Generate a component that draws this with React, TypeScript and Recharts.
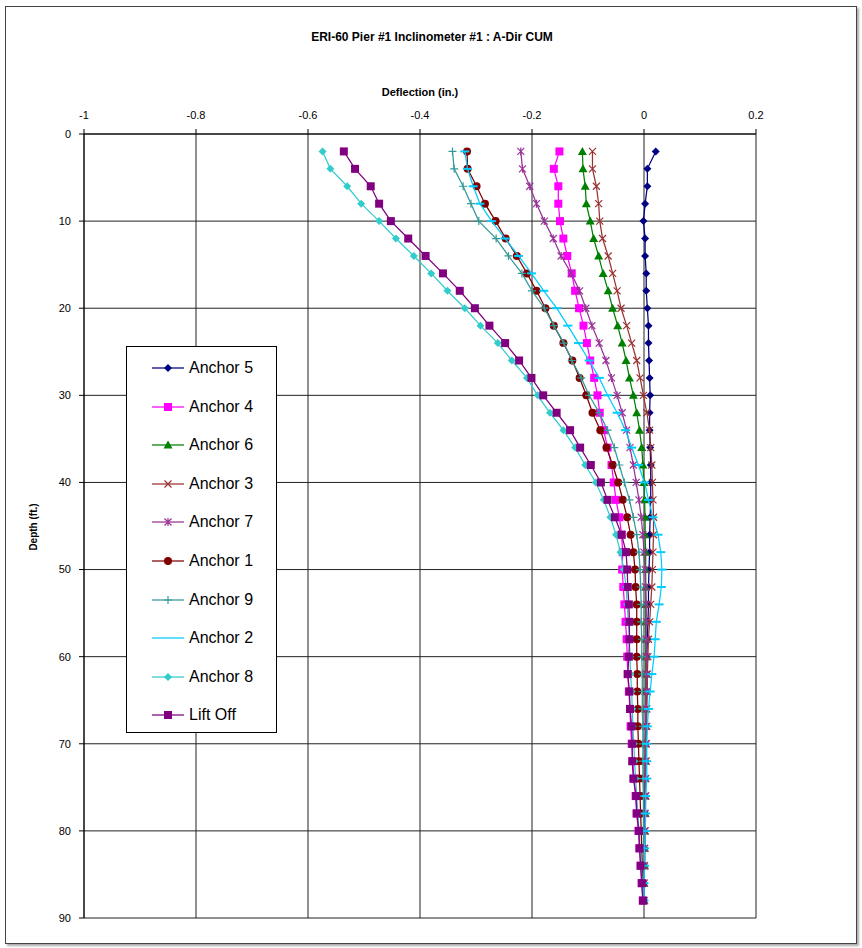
import { ScatterChart, Scatter, XAxis, YAxis, CartesianGrid } from 'recharts';

const FONT = '"Liberation Sans", Arial, sans-serif';

// depth below top of casing, ft
const DEPTH = [
  2, 4, 6, 8, 10, 12, 14, 16, 18, 20, 22, 24, 26, 28, 30, 32, 34, 36, 38, 40, 42, 44,
  46, 48, 50, 52, 54, 56, 58, 60, 62, 64, 66, 68, 70, 72, 74, 76, 78, 80, 82, 84, 86, 88,
];

const X_TICKS = [-1, -0.8, -0.6, -0.4, -0.2, 0, 0.2];
const Y_TICKS = [0, 10, 20, 30, 40, 50, 60, 70, 80, 90];

// cumulative deflection, in.
const ANCHOR_5 = [
  0.021, 0.006, 0.006, 0.002, -0.001, 0.002, 0.002, 0.004, 0.004, 0.006, 0.008, 0.008, 0.009, 0.010, 0.011,
  0.010, 0.010, 0.011, 0.012, 0.012, 0.012, 0.011, 0.010, 0.010, 0.009, 0.008, 0.008, 0.007, 0.006, 0.005,
  0.005, 0.004, 0.004, 0.003, 0.003, 0.003, 0.002, 0.002, 0.002, 0.001, 0.001, 0.001, 0.000, 0.000,
];
const ANCHOR_4 = [
  -0.151, -0.161, -0.153, -0.153, -0.150, -0.144, -0.137, -0.129, -0.123, -0.116, -0.108, -0.102, -0.096, -0.089,
  -0.083, -0.079, -0.072, -0.065, -0.058, -0.054, -0.050, -0.044, -0.040, -0.038, -0.039, -0.037, -0.035, -0.033,
  -0.031, -0.030, -0.029, -0.027, -0.025, -0.024, -0.022, -0.020, -0.018, -0.015, -0.013, -0.010, -0.008, -0.006,
  -0.004, -0.002,
];
const ANCHOR_6 = [
  -0.110, -0.109, -0.105, -0.103, -0.096, -0.090, -0.081, -0.073, -0.064, -0.056, -0.047, -0.039, -0.032, -0.026,
  -0.019, -0.013, -0.008, -0.004, -0.002, 0.000, 0.001, 0.002, 0.002, 0.003, 0.003, 0.003, 0.003, 0.003, 0.003,
  0.003, 0.003, 0.003, 0.003, 0.003, 0.002, 0.002, 0.002, 0.002, 0.002, 0.001, 0.001, 0.001, 0.000, 0.000,
];
const ANCHOR_3 = [
  -0.092, -0.092, -0.085, -0.081, -0.079, -0.074, -0.064, -0.056, -0.048, -0.041, -0.031, -0.022, -0.013, -0.007,
  -0.001, 0.005, 0.010, 0.012, 0.014, 0.015, 0.016, 0.017, 0.017, 0.016, 0.015, 0.014, 0.012, 0.010, 0.008, 0.007,
  0.006, 0.006, 0.005, 0.005, 0.004, 0.004, 0.003, 0.003, 0.002, 0.002, 0.001, 0.001, 0.000, 0.000,
];
const ANCHOR_7 = [
  -0.220, -0.217, -0.204, -0.192, -0.178, -0.162, -0.148, -0.130, -0.115, -0.104, -0.093, -0.080, -0.068, -0.058,
  -0.048, -0.039, -0.031, -0.025, -0.019, -0.014, -0.009, -0.005, -0.002, 0.000, 0.002, 0.003, 0.004, 0.004, 0.004,
  0.004, 0.004, 0.004, 0.003, 0.003, 0.003, 0.002, 0.002, 0.002, 0.001, 0.001, 0.001, 0.000, 0.000, 0.000,
];
const ANCHOR_1 = [
  -0.316, -0.315, -0.299, -0.284, -0.265, -0.247, -0.227, -0.209, -0.192, -0.176, -0.161, -0.144, -0.128, -0.115,
  -0.103, -0.092, -0.078, -0.067, -0.056, -0.046, -0.038, -0.030, -0.024, -0.019, -0.016, -0.015, -0.013, -0.013,
  -0.013, -0.013, -0.012, -0.012, -0.011, -0.011, -0.010, -0.009, -0.008, -0.007, -0.006, -0.005, -0.004, -0.003,
  -0.002, -0.001,
];
const ANCHOR_9 = [
  -0.342, -0.339, -0.323, -0.309, -0.295, -0.264, -0.242, -0.218, -0.200, -0.178, -0.161, -0.143, -0.129, -0.112,
  -0.098, -0.080, -0.065, -0.053, -0.044, -0.035, -0.026, -0.019, -0.013, -0.009, -0.007, -0.006, -0.005, -0.005,
  -0.004, -0.004, -0.003, -0.003, -0.003, -0.002, -0.002, -0.002, -0.002, -0.001, -0.001, -0.001, -0.001, 0.000,
  0.000, 0.000,
];
const ANCHOR_2 = [
  -0.320, -0.315, -0.305, -0.293, -0.272, -0.248, -0.224, -0.201, -0.179, -0.156, -0.136, -0.117, -0.098, -0.080,
  -0.065, -0.048, -0.033, -0.022, -0.010, 0.001, 0.008, 0.016, 0.025, 0.030, 0.032, 0.031, 0.027, 0.022, 0.020,
  0.018, 0.014, 0.011, 0.008, 0.006, 0.005, 0.005, 0.005, 0.003, 0.003, 0.002, 0.001, 0.001, 0.000, 0.000,
];
const ANCHOR_8 = [
  -0.574, -0.560, -0.530, -0.505, -0.473, -0.443, -0.411, -0.380, -0.351, -0.320, -0.292, -0.261, -0.236, -0.209,
  -0.190, -0.168, -0.144, -0.123, -0.105, -0.086, -0.072, -0.060, -0.050, -0.042, -0.036, -0.032, -0.030, -0.028,
  -0.026, -0.025, -0.024, -0.022, -0.021, -0.020, -0.018, -0.017, -0.015, -0.013, -0.011, -0.009, -0.007, -0.005,
  -0.003, -0.002,
];
const LIFT_OFF = [
  -0.536, -0.516, -0.488, -0.473, -0.452, -0.421, -0.390, -0.359, -0.329, -0.302, -0.276, -0.248, -0.223, -0.201,
  -0.180, -0.156, -0.132, -0.114, -0.095, -0.077, -0.065, -0.052, -0.040, -0.032, -0.030, -0.029, -0.027, -0.026,
  -0.026, -0.027, -0.029, -0.026, -0.025, -0.022, -0.021, -0.021, -0.019, -0.014, -0.013, -0.009, -0.008, -0.006,
  -0.004, -0.002,
];

type MarkerKind = 'diamond' | 'square' | 'triangle' | 'x' | 'star' | 'circle' | 'plus' | 'dash';

const SERIES: { name: string; values: number[]; color: string; marker: MarkerKind }[] = [
  { name: 'Anchor 5', values: ANCHOR_5, color: '#000080', marker: 'diamond' },
  { name: 'Anchor 4', values: ANCHOR_4, color: '#FF00FF', marker: 'square' },
  { name: 'Anchor 6', values: ANCHOR_6, color: '#008000', marker: 'triangle' },
  { name: 'Anchor 3', values: ANCHOR_3, color: '#993333', marker: 'x' },
  { name: 'Anchor 7', values: ANCHOR_7, color: '#993399', marker: 'star' },
  { name: 'Anchor 1', values: ANCHOR_1, color: '#800000', marker: 'circle' },
  { name: 'Anchor 9', values: ANCHOR_9, color: '#339999', marker: 'plus' },
  { name: 'Anchor 2', values: ANCHOR_2, color: '#00CCFF', marker: 'dash' },
  { name: 'Anchor 8', values: ANCHOR_8, color: '#33CCCC', marker: 'diamond' },
  { name: 'Lift Off', values: LIFT_OFF, color: '#800080', marker: 'square' },
];

function Marker({ kind, cx, cy, color }: { kind: MarkerKind; cx: number; cy: number; color: string }) {
  switch (kind) {
    case 'diamond':
      return <polygon points={`${cx},${cy - 4} ${cx + 4},${cy} ${cx},${cy + 4} ${cx - 4},${cy}`} fill={color} />;
    case 'square':
      return <rect x={cx - 4} y={cy - 4} width={8} height={8} fill={color} />;
    case 'triangle':
      return <polygon points={`${cx},${cy - 4.5} ${cx + 4.5},${cy + 3.5} ${cx - 4.5},${cy + 3.5}`} fill={color} />;
    case 'circle':
      return <circle cx={cx} cy={cy} r={4} fill={color} />;
    case 'x':
      return (
        <path d={`M${cx - 3.5},${cy - 3.5}L${cx + 3.5},${cy + 3.5}M${cx - 3.5},${cy + 3.5}L${cx + 3.5},${cy - 3.5}`}
          stroke={color} strokeWidth={1.2} fill="none" />
      );
    case 'star':
      return (
        <path d={`M${cx - 3.5},${cy - 3.5}L${cx + 3.5},${cy + 3.5}M${cx - 3.5},${cy + 3.5}L${cx + 3.5},${cy - 3.5}M${cx},${cy - 4}L${cx},${cy + 4}`}
          stroke={color} strokeWidth={1.2} fill="none" />
      );
    case 'plus':
      return (
        <path d={`M${cx - 4},${cy}L${cx + 4},${cy}M${cx},${cy - 4}L${cx},${cy + 4}`}
          stroke={color} strokeWidth={1.2} fill="none" />
      );
    case 'dash':
      return <path d={`M${cx - 4.5},${cy}L${cx + 4.5},${cy}`} stroke={color} strokeWidth={2} fill="none" />;
  }
}

const tickStyle = { fill: '#000', fontSize: 11, fontFamily: FONT };

export default function App() {
  return (
    <div style={{ position: 'absolute', left: 0, top: 0, width: 862, height: 948, background: '#fff', fontFamily: FONT }}>
      <div style={{
        position: 'absolute', left: 5, top: 6, width: 850, height: 936,
        border: '1px solid #444', boxShadow: '2px 2px 2px #aaa',
      }} />
      <div style={{ position: 'absolute', left: 0, width: 864, top: 30, textAlign: 'center', fontSize: 12, fontWeight: 'bold' }}>
        ERI-60 Pier #1 Inclinometer #1 : A-Dir CUM
      </div>
      <div style={{ position: 'absolute', left: 84, width: 672, top: 86, textAlign: 'center', fontSize: 11, fontWeight: 'bold' }}>
        Deflection (in.)
      </div>
      <div style={{
        position: 'absolute', left: 33, top: 527, fontSize: 10, fontWeight: 'bold', whiteSpace: 'nowrap',
        transform: 'translate(-50%, -50%) rotate(-90deg)',
      }}>
        Depth (ft.)
      </div>

      <div style={{ position: 'absolute', left: 0, top: 0 }}>
        <ScatterChart width={862} height={948} margin={{ top: 104, right: 106, bottom: 30, left: 0 }}>
          <CartesianGrid stroke="#222" strokeWidth={1} />
          <XAxis type="number" dataKey="x" orientation="top" domain={[-1, 0.2]} ticks={X_TICKS} interval={0}
            allowDataOverflow height={30} tickSize={5} tickMargin={10} tick={tickStyle}
            axisLine={{ stroke: '#000' }} tickLine={{ stroke: '#000' }} />
          <YAxis type="number" dataKey="y" domain={[0, 90]} reversed ticks={Y_TICKS} interval={0}
            allowDataOverflow width={84} tickSize={5} tickMargin={8} tick={tickStyle}
            axisLine={{ stroke: '#000' }} tickLine={{ stroke: '#000' }} />
          {SERIES.map((s) => (
            <Scatter
              key={s.name}
              name={s.name}
              data={s.values.map((v, i) => ({ x: v, y: DEPTH[i] }))}
              line={{ stroke: s.color, strokeWidth: 1.25 }}
              shape={(p: any) => <Marker kind={s.marker} cx={p.cx} cy={p.cy} color={s.color} />}
              isAnimationActive={false}
            />
          ))}
        </ScatterChart>
      </div>

      <div style={{
        position: 'absolute', left: 126, top: 346, width: 149, height: 385,
        border: '1px solid #000', background: '#fff',
      }}>
        {SERIES.map((s, i) => (
          <div key={s.name} style={{ position: 'absolute', left: 25, top: 11 + i * 38.6, height: 20, display: 'flex', alignItems: 'center' }}>
            <svg width={32} height={20}>
              <line x1={0} y1={10} x2={32} y2={10} stroke={s.color} strokeWidth={1.25} />
              {s.marker !== 'dash' && <Marker kind={s.marker} cx={16} cy={10} color={s.color} />}
            </svg>
            <span style={{ marginLeft: 5, fontSize: 16, color: '#000' }}>{s.name}</span>
          </div>
        ))}
      </div>
    </div>
  );
}
